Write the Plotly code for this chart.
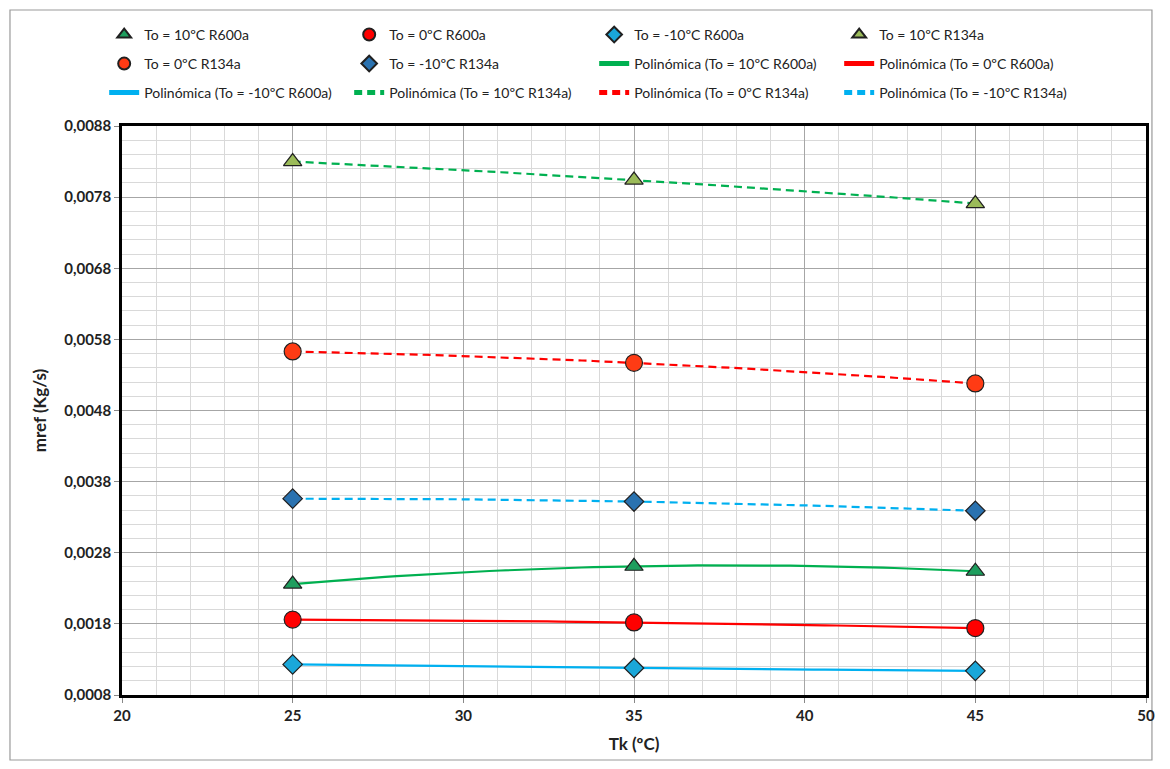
import numpy as np
import plotly.graph_objects as go

tk = [25, 35, 45]
r600a_10 = [0.00236, 0.00261, 0.00254]
r600a_0 = [0.00186, 0.00182, 0.00174]
r600a_m10 = [0.00123, 0.00118, 0.00114]
r134a_10 = [0.00830, 0.00804, 0.00771]
r134a_0 = [0.00563, 0.00547, 0.00518]
r134a_m10 = [0.00356, 0.00352, 0.00339]

FONT = "Lato, 'Open Sans', sans-serif"

fig = go.Figure()

def pts(name, y, symbol, color, size, legend):
    fig.add_trace(go.Scatter(x=tk, y=y, mode="markers", name=name, legend=legend,
                             marker=dict(symbol=symbol, color=color, size=size,
                                         line=dict(color="#202020", width=1.2))))

def trend(name, y, color, dash, legend):
    c = np.polyfit(tk, y, 2)
    xs = np.linspace(tk[0], tk[-1], 60)
    fig.add_trace(go.Scatter(x=xs, y=np.polyval(c, xs), mode="lines", name=name, legend=legend,
                             line=dict(color=color, width=2.2, dash=dash)))

# trend lines first (drawn below markers)
trend("Polinómica (To = 10ºC R600a)", r600a_10, "#00B050", "solid", "legend2")
trend("Polinómica (To = 0ºC R600a)", r600a_0, "#FF0000", "solid", "legend2")
trend("Polinómica (To = -10ºC R600a)", r600a_m10, "#00B0F0", "solid", "legend3")
trend("Polinómica (To = 10ºC R134a)", r134a_10, "#00B050", "8px,5px", "legend3")
trend("Polinómica (To = 0ºC R134a)", r134a_0, "#FF0000", "8px,5px", "legend3")
trend("Polinómica (To = -10ºC R134a)", r134a_m10, "#00B0F0", "8px,5px", "legend3")

pts("To = 10ºC R600a", r600a_10, "triangle-up", "#1E9E5E", 16, "legend")
pts("To = 0ºC R600a", r600a_0, "circle", "#FF0000", 17, "legend")
pts("To = -10ºC R600a", r600a_m10, "diamond", "#1AA7D9", 15, "legend")
pts("To = 10ºC R134a", r134a_10, "triangle-up", "#9BBB59", 16, "legend")
pts("To = 0ºC R134a", r134a_0, "circle", "#FF3B14", 17, "legend2")
pts("To = -10ºC R134a", r134a_m10, "diamond", "#2A72B0", 15, "legend2")

# order traces for legend rows
order = [6, 7, 8, 9, 10, 11, 0, 1, 2, 3, 4, 5]
for rank, i in enumerate(order):
    fig.data[i].legendrank = rank + 1

def leg(y):
    return dict(orientation="h", x=-0.0174, xanchor="left", y=y, yanchor="middle",
                entrywidth=200, font=dict(family=FONT, size=14, color="#222"),
                bgcolor="rgba(0,0,0,0)", itemsizing="constant", traceorder="normal")

W, H = 1154, 753
L, R, T, B = 114, 7, 118, 66
pw = W - L - R
ph = H - T - B

fig.update_layout(
    width=W, height=H,
    margin=dict(l=L, r=R, t=T, b=B),
    paper_bgcolor="white", plot_bgcolor="white",
    separators=",.",
    font=dict(family=FONT, size=14, color="#222"),
    legend=leg(1.160), legend2=leg(1.109), legend3=leg(1.058),
    showlegend=True,
    xaxis=dict(range=[20, 50], tick0=20, dtick=5, showline=True, mirror=True,
               linecolor="black", linewidth=2.5, ticks="outside", ticklen=5, tickcolor="#888",
               gridcolor="#A6A6A6", gridwidth=1, zeroline=False,
               minor=dict(dtick=1, showgrid=True, gridcolor="#D9D9D9", gridwidth=1),
               tickfont=dict(family=FONT, size=15, color="#222", weight="bold"),
               title=dict(text="<b>Tk (ºC)</b>", font=dict(family=FONT, size=17), standoff=16)),
    yaxis=dict(range=[0.0008, 0.0088], tick0=0.0008, dtick=0.001, tickformat=".4f",
               showline=True, mirror=True, linecolor="black", linewidth=2.5,
               ticks="outside", ticklen=5, tickcolor="#888",
               gridcolor="#A6A6A6", gridwidth=1, zeroline=False,
               minor=dict(dtick=0.0002, showgrid=True, gridcolor="#D9D9D9", gridwidth=1),
               tickfont=dict(family=FONT, size=15, color="#222", weight="bold"),
               title=dict(text="<b>mref (Kg/s)</b>", font=dict(family=FONT, size=17), standoff=14)),
)

# outer chart border (at the figure edges)
fig.add_shape(type="rect", xref="paper", yref="paper",
              x0=(1 - L) / pw, x1=(W - 1 - L) / pw,
              y0=-(B - 1) / ph, y1=(ph + T - 2) / ph,
              line=dict(color="#9A9A9A", width=1.2), layer="below")

fig.write_html("out.html")
